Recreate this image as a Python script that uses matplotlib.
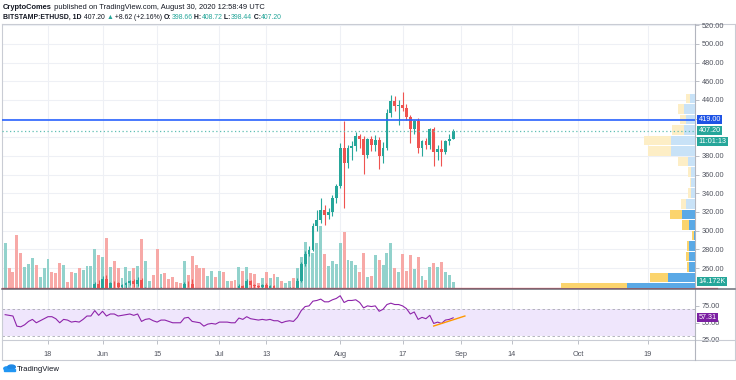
import numpy as np
import pandas as pd
import matplotlib
matplotlib.use('Agg')
import matplotlib.pyplot as plt
import matplotlib.dates as mdates
import matplotlib.transforms as mtransforms
from matplotlib.lines import Line2D
from matplotlib.patches import Circle, Polygon

# ---------------- data ----------------
dates = pd.date_range('2020-05-07', periods=116, freq='D')

opens = [205, 212.5, 211.5, 210, 188, 186.5, 190,
         199, 203, 194, 200, 207, 214, 213.5,
         209, 198, 208, 206, 200, 203, 201,
         208, 219, 220, 243, 231, 248, 237,
         244, 243.5, 240, 242, 244, 246, 243,
         247, 231, 237, 238, 234, 230, 236,
         235, 232, 228, 227.5, 227, 243, 242.5,
         234, 232, 230, 221, 225, 228, 225,
         231, 230, 231, 229, 228, 241, 239,
         246, 242, 241, 239.5, 242, 239, 241,
         238, 238.5, 233, 236, 239, 237, 246,
         264, 275, 279, 305, 311, 322, 317,
         320, 335, 348, 388, 372, 388.5, 391,
         401, 398, 381, 398, 392, 397, 380,
         388.5, 426, 439, 433.5, 434.5, 431, 422,
         409, 417, 388, 396, 392, 408.5, 384.5,
         387, 384.5, 395.5, 398.66]
highs = [215, 216, 214, 211, 194, 193, 200,
         206, 204, 201, 208, 216, 215, 214,
         210, 210, 211, 210, 206, 206, 209,
         221, 223, 245, 247, 251, 253, 245,
         246, 245, 243, 245, 247, 248, 250,
         249, 240, 239, 239, 235, 240, 239,
         236, 233, 230, 231, 245, 246, 248,
         235, 233, 231, 227, 230, 229, 232,
         232, 232, 232, 230, 243, 242, 248,
         247, 243, 242, 243, 244, 242, 242,
         239, 239, 238, 240, 240, 249, 266,
         278, 284, 308, 322, 335, 327, 324,
         338, 350, 394, 417, 392, 396, 406,
         404, 401, 399, 401, 402, 400, 395,
         430, 445, 444, 440, 448, 436, 424,
         419, 421, 397, 399, 410, 411, 392,
         397, 397, 403, 408.72]
lows = [203, 209, 207, 178, 181, 185, 189,
        197, 192, 192, 199, 205, 209, 204,
        196, 197, 205, 199, 196, 199, 200,
        207, 214, 219, 229, 230, 226, 235,
        238, 238, 238, 236, 242, 240, 241,
        229, 229, 234, 232, 216, 229, 232,
        230, 225, 224, 226, 226, 240, 232,
        225, 226, 218, 218, 222, 223, 224,
        223, 225, 226, 224, 227, 236, 238,
        238, 236, 238, 237, 236, 236, 236,
        231, 231, 232, 234, 235, 236, 245,
        262, 273, 278, 300, 308, 306, 313,
        316, 330, 346, 324, 367, 376, 385,
        388, 361, 378, 385, 385, 366, 372,
        386, 422, 428, 413, 428, 418, 394,
        404, 383, 380, 387, 387, 369, 376,
        369, 382, 392, 398.44]
closes = [212.5, 211.5, 210, 188, 186.5, 190, 199,
          203, 194, 200, 207, 214, 213.5, 209,
          198, 208, 206, 200, 203, 201, 208,
          219, 220, 243, 231, 248, 237, 244,
          243.5, 240, 242, 244, 246, 243, 247,
          231, 237, 238, 234, 230, 236, 235,
          232, 228, 227.5, 227, 243, 242.5, 234,
          232, 230, 221, 225, 228, 225, 231,
          230, 231, 229, 228, 241, 239, 246,
          242, 241, 239.5, 242, 239, 241, 238,
          238.5, 233, 236, 239, 236, 246, 264,
          275, 279, 305, 311, 322, 317, 320,
          335, 348, 388, 372, 388.5, 391, 401,
          398, 381, 398, 392, 397, 380, 388.5,
          426, 439, 433.5, 434.5, 431, 422, 409,
          417, 388, 396, 392, 408.5, 384.5, 387,
          384.5, 395.5, 398.58, 407.20]
volumes_k = [99.0, 43.3, 34.4, 116.3, 78.2, 45.4, 53.1,
             65.6, 51.1, 24.0, 43.3, 63.6, 35.0, 32.9,
             55.2, 51.1, 13.5, 34.4, 32.3, 44.8, 40.6,
             49.0, 49.0, 86.5, 74.0, 67.7, 111.5, 46.9,
             59.4, 44.8, 21.9, 46.9, 38.6, 43.3, 49.0,
             109.4, 59.4, 15.6, 28.1, 86.5, 30.2, 32.3,
             20.4, 24.6, 13.5, 12.1, 59.4, 28.1, 69.8,
             51.1, 44.8, 44.8, 26.1, 36.5, 24.0, 36.5,
             35.0, 15.6, 15.6, 17.7, 45.4, 36.5, 46.9,
             32.9, 30.2, 12.1, 22.5, 34.4, 21.9, 30.2,
             24.6, 15.6, 10.0, 15.6, 22.5, 43.3, 67.7,
             102.5, 79.6, 78.2, 99.0, 137.1, 74.6, 48.3,
             58.8, 53.1, 99.0, 123.4, 60.9, 58.8, 51.7,
             35.0, 76.7, 24.0, 26.1, 72.5, 60.9, 51.7,
             78.2, 99.0, 43.3, 35.0, 74.6, 36.5, 73.4,
             42.1, 69.2, 26.1, 17.7, 46.9, 55.2, 46.9,
             57.3, 35.0, 28.1, 14.172]
rsi = [62, 61, 60, 45, 44, 47, 52,
       55, 50, 53, 56, 59, 59, 56,
       50, 55, 54, 51, 52, 51, 55,
       60, 60, 68, 61, 67, 60, 63,
       63, 60, 61, 62, 63, 61, 63,
       52, 55, 56, 53, 51, 54, 54,
       52, 50, 50, 50, 57, 58, 52,
       51, 50, 45, 48, 49, 48, 51,
       51, 51, 50, 50, 57, 55, 59,
       56, 55, 54, 55, 54, 55, 53,
       53, 50, 52, 53, 52, 58, 68,
       74, 75, 82, 83, 85, 81, 81,
       84, 86, 90, 80, 83, 83, 84,
       80, 72, 75, 74, 75, 67, 70,
       77, 79, 77, 77, 75, 71, 63,
       66, 55, 58, 56, 61, 49, 51,
       49, 54, 55, 57.31]
rsi_trend_dates = ['2020-08-25', '2020-09-02']
rsi_trend_vals = [45.2, 60.0]

# visible-range volume profile (rows visible in the pane)
vp_price = [238.5, 249.8, 261.1, 272.4, 283.6, 294.9, 306.2, 317.5, 328.8, 340.1,
            351.4, 362.6, 373.9, 385.2, 396.5, 407.8, 419.1, 430.4, 441.6]
vp_row = 11.28
vp_up = [677, 267, 57, 60, 57, 13, 60, 127, 90, 40, 43, 40, 73, 240, 240, 113, 90, 107, 50]
vp_down = [667, 180, 20, 30, 27, 13, 67, 123, 50, 27, 7, 27, 93, 227, 267, 113, 63, 60, 40]
vp_value_area = [True] * 8 + [False] * 11

hline_price = 419.00
last_price = 407.20
countdown = '11:01:13'
last_volume_label = '14.172K'
price_ticks = list(range(260, 521, 20))
hidden_price_ticks = [400, 420]   # covered by the price labels on the axis
rsi_ticks = [25, 50, 75]
time_ticks = ['2020-05-18', '2020-06-01', '2020-06-15', '2020-07-01', '2020-07-13',
              '2020-08-01', '2020-08-17', '2020-09-01', '2020-09-14', '2020-10-01', '2020-10-19']
time_labels = ['18', 'Jun', '15', 'Jul', '13', 'Aug', '17', 'Sep', '14', 'Oct', '19']

# ---------------- style ----------------
TEAL = '#26a69a'
RED = '#ef5350'
VTEAL = '#92d2cc'
VRED = '#f7a9a7'
GRID = '#eef0f5'
TXT = '#50535e'
FONT = ['Liberation Sans', 'DejaVu Sans']
plt.rcParams['font.family'] = FONT

W, H = 736, 380
fig = plt.figure(figsize=(7.36, 3.80), dpi=100)
fig.patch.set_facecolor('white')

def fx(px):
    return px / W

def fy(py):
    return 1 - py / H

L, R = 2, 695
PT, PB = 24, 288
RT, RB = 290, 340
pos_p = [fx(L), fy(PB), fx(R) - fx(L), fy(PT) - fy(PB)]
pos_r = [fx(L), fy(RB), fx(R) - fx(L), fy(RT) - fy(RB)]

d0 = mdates.date2num(pd.Timestamp('2020-05-18'))
xlim = (d0 - 11.81, d0 + 166.07)
ylim_p = (238.6, 521.3)
ylim_r = (24.5, 98.5)
vol_top = 280 * 2.084
vp_span = (R - L) * 10

axg = fig.add_axes(pos_p)
axv = fig.add_axes(pos_p, sharex=axg)
axp = fig.add_axes(pos_p, sharey=axg)
ax = fig.add_axes(pos_p, sharex=axg, sharey=axg)
axr = fig.add_axes(pos_r, sharex=axg)
axg.set_zorder(0); axv.set_zorder(1); axp.set_zorder(2); ax.set_zorder(3)
for a in (axv, axp, ax):
    a.patch.set_visible(False)
for a in (axg, axv, axp, ax, axr):
    for s in a.spines.values():
        s.set_visible(False)

axg.set_xlim(*xlim)
axg.set_ylim(*ylim_p)
x = mdates.date2num(dates)
o = np.array(opens); c = np.array(closes)
h = np.array(highs); lo = np.array(lows)
up = c >= o

# grid
tick_x = mdates.date2num(pd.to_datetime(time_ticks))
for tx in tick_x:
    axg.axvline(tx, color=GRID, lw=0.8, zorder=0)
    axr.axvline(tx, color=GRID, lw=0.8, zorder=0)
for py in price_ticks:
    axg.axhline(py, color=GRID, lw=0.8, zorder=0)

# volume
axv.bar(x, volumes_k, width=0.75, color=np.where(up, VTEAL, VRED), linewidth=0)
axv.set_ylim(0, vol_top)

# volume profile
axp.set_xlim(vp_span, 0)
vp_up_a = np.array(vp_up); vp_dn_a = np.array(vp_down)
blue_c = ['#5aa9e6' if va else '#c8e2f7' for va in vp_value_area]
yel_c = ['#fbd46d' if va else '#fdeec6' for va in vp_value_area]
axp.barh(vp_price, vp_up_a, left=0, height=vp_row * 0.9, color=blue_c, linewidth=0)
axp.barh(vp_price, vp_dn_a, left=vp_up_a, height=vp_row * 0.9, color=yel_c, linewidth=0)

# candles
col = np.where(up, TEAL, RED)
ax.vlines(x, lo, h, colors=col, lw=0.8, zorder=3)
ax.bar(x, np.maximum(np.abs(c - o), 0.9), bottom=np.minimum(o, c), width=0.72,
       color=col, linewidth=0, zorder=4)
ax.axhline(hline_price, color='#2962ff', lw=1.4, alpha=0.85, zorder=5)
ax.axhline(last_price, color='#5fbfb3', lw=0.9, ls=(0, (1, 2)), zorder=5)

ax.yaxis.tick_right()
ax.set_yticks(price_ticks)
ax.set_yticklabels(['' if p in hidden_price_ticks else f'{p:.2f}' for p in price_ticks])
ax.tick_params(axis='y', labelsize=5.3, labelcolor=TXT, color='#b2b5be',
               length=3, width=0.6, pad=2, left=False, labelleft=False,
               right=True, labelright=True)
for a in (axg, axv, axp):
    a.tick_params(left=False, labelleft=False, right=False, labelright=False,
                  bottom=False, labelbottom=False, top=False, labeltop=False)
ax.tick_params(axis='x', bottom=False, labelbottom=False)

# right axis labels
trans_p = mtransforms.blended_transform_factory(ax.transAxes, ax.transData)
def axis_label(axis, trans, yv, text, fc, dy=0.0):
    t = trans
    if dy:
        t = trans + mtransforms.ScaledTranslation(0, dy / 100.0, fig.dpi_scale_trans)
    axis.text(1.005, yv, text, transform=t, ha='left', va='center', fontsize=5.2,
              color='white', clip_on=False, zorder=10,
              bbox=dict(boxstyle='square,pad=0.15', fc=fc, ec='none'))

axis_label(ax, trans_p, hline_price, f'{hline_price:.2f}', '#1e53e5')
axis_label(ax, trans_p, last_price, f'{last_price:.2f}', TEAL)
axis_label(ax, trans_p, last_price, countdown, TEAL, dy=-11)
trans_v = mtransforms.blended_transform_factory(axv.transAxes, axv.transData)
axis_label(axv, trans_v, volumes_k[-1], last_volume_label, TEAL)

# RSI pane
axr.axhspan(30, 70, color='#efe6fc', lw=0, zorder=1)
axr.axhline(70, color='#a9abb3', lw=0.6, ls=(0, (3, 3)), zorder=2)
axr.axhline(30, color='#a9abb3', lw=0.6, ls=(0, (3, 3)), zorder=2)
axr.plot(x, rsi, color='#8e24aa', lw=0.8, zorder=3)
axr.plot(mdates.date2num(pd.to_datetime(rsi_trend_dates)), rsi_trend_vals,
         color='#ff9800', lw=1.0, zorder=4)
axr.set_ylim(*ylim_r)
axr.yaxis.tick_right()
axr.set_yticks(rsi_ticks)
axr.set_yticklabels([f'{v:.2f}' for v in rsi_ticks])
axr.tick_params(axis='y', labelsize=5.3, labelcolor=TXT, color='#b2b5be',
                length=3, width=0.6, pad=2)
trans_r = mtransforms.blended_transform_factory(axr.transAxes, axr.transData)
axis_label(axr, trans_r, rsi[-1], f'{rsi[-1]:.2f}', '#7b1fa2')

axr.set_xticks(tick_x)
axr.set_xticklabels(time_labels)
axr.tick_params(axis='x', labelsize=5.3, labelcolor=TXT, color='#b2b5be',
                length=3, width=0.6, pad=5, direction='out')
axr.set_xlim(*xlim)

# frame lines
def hline_px(y, x0, x1, color, lw):
    fig.add_artist(Line2D([fx(x0), fx(x1)], [fy(y), fy(y)], color=color, lw=lw,
                          transform=fig.transFigure))

def vline_px(xp, y0, y1, color, lw):
    fig.add_artist(Line2D([fx(xp), fx(xp)], [fy(y0), fy(y1)], color=color, lw=lw,
                          transform=fig.transFigure))

FR = '#c9ccd4'
hline_px(PT, L, 735, FR, 0.8)
hline_px(360, L, 735, FR, 0.8)
hline_px(RB, L, 735, FR, 0.8)
vline_px(L, PT, 360, FR, 0.8)
vline_px(735, PT, 360, FR, 0.8)
vline_px(R, PT, 360, '#b2b5be', 0.8)
hline_px(287.5, L, 717, '#f23645', 0.9)
hline_px(289.3, L, 735, '#6a6d78', 1.1)

# header text in runs
renderer = fig.canvas.get_renderer()
def runs(x0, ybase, pieces, size=5.4):
    xp = x0
    for text, weight, color in pieces:
        t = fig.text(fx(xp), fy(ybase), text, fontsize=size, fontweight=weight,
                     color=color, ha='left', va='baseline', family=FONT)
        bb = t.get_window_extent(renderer=renderer)
        xp += bb.width

DK = '#131722'
runs(3, 9, [('CryptoComes', 'bold', DK),
            (' published on TradingView.com, August 30, 2020 12:58:49 UTC', 'normal', DK)])
runs(3, 19, [('BITSTAMP:ETHUSD, 1D', 'bold', DK),
             (' 407.20 ', 'normal', DK), ('\u25b2', 'normal', TEAL),
             (' +8.62 (+2.16%) ', 'normal', DK),
             ('O:', 'bold', DK), ('398.66', 'normal', TEAL),
             (' H:', 'bold', DK), ('408.72', 'normal', TEAL),
             (' L:', 'bold', DK), ('398.44', 'normal', TEAL),
             (' C:', 'bold', DK), ('407.20', 'normal', TEAL)], size=4.95)

# TradingView logo
logo = [Circle((fx(7), fy(368.5)), 3.2 / W, transform=fig.transFigure, color='#2196f3'),
        Circle((fx(11.5), fy(367)), 3.8 / W, transform=fig.transFigure, color='#1e88e5'),
        Polygon([[fx(4), fy(371)], [fx(15), fy(371)], [fx(15), fy(369)], [fx(4), fy(369)]],
                closed=True, transform=fig.transFigure, color='#2196f3')]
for p in logo:
    fig.add_artist(p)
fig.text(fx(17), fy(371), 'TradingView', fontsize=5.6, color=DK, ha='left', va='baseline')

fig.savefig('out.png', dpi=100, facecolor='white')
